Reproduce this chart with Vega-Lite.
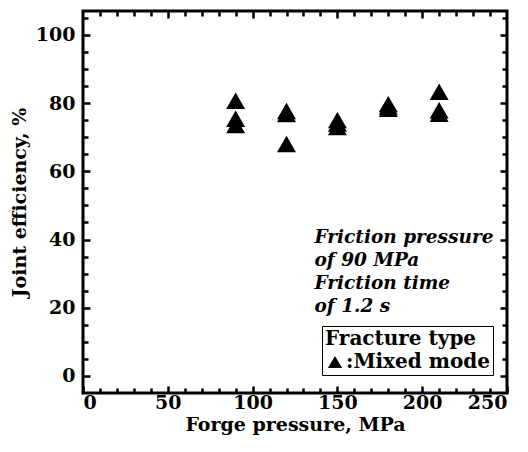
{
  "$schema": "https://vega.github.io/schema/vega-lite/v6.json",
  "width": 424,
  "height": 382,
  "autosize": {"type": "none"},
  "padding": {"left": 83, "top": 11, "right": 21, "bottom": 59},
  "background": "white",
  "config": {
    "view": {"stroke": "black", "strokeWidth": 3},
    "axis": {
      "domain": false, "grid": false,
      "labelFont": "DejaVu Serif", "labelFontWeight": "bold", "labelFontSize": 19, "labelColor": "black",
      "titleFont": "DejaVu Serif", "titleFontWeight": "bold", "titleFontSize": 19, "titleColor": "black",
      "tickColor": "black", "tickWidth": 2.5
    }
  },
  "datasets": {
    "pts": [
      {"forge": 90, "eff": 80.7, "type": "Mixed mode"},
      {"forge": 90, "eff": 75.4, "type": "Mixed mode"},
      {"forge": 90, "eff": 73.6, "type": "Mixed mode"},
      {"forge": 120, "eff": 77.7, "type": "Mixed mode"},
      {"forge": 120, "eff": 76.8, "type": "Mixed mode"},
      {"forge": 120, "eff": 68.0, "type": "Mixed mode"},
      {"forge": 150, "eff": 75.0, "type": "Mixed mode"},
      {"forge": 150, "eff": 74.0, "type": "Mixed mode"},
      {"forge": 150, "eff": 73.0, "type": "Mixed mode"},
      {"forge": 180, "eff": 79.7, "type": "Mixed mode"},
      {"forge": 180, "eff": 79.0, "type": "Mixed mode"},
      {"forge": 180, "eff": 78.3, "type": "Mixed mode"},
      {"forge": 210, "eff": 83.3, "type": "Mixed mode"},
      {"forge": 210, "eff": 77.9, "type": "Mixed mode"},
      {"forge": 210, "eff": 76.9, "type": "Mixed mode"}
    ],
    "note": [
      {"x": 136.5, "y": 39, "t": "Friction pressure\nof 90 MPa\nFriction time\nof 1.2 s"}
    ]
  },
  "layer": [
    {
      "data": {"name": "pts"},
      "mark": {"type": "point", "filled": true, "size": 360, "color": "black", "opacity": 1},
      "encoding": {
        "x": {
          "field": "forge", "type": "quantitative",
          "scale": {"domain": [0, 250], "nice": false, "zero": false},
          "axis": {
            "orient": "bottom", "title": "Forge pressure, MPa",
            "values": [0,10,20,30,40,50,60,70,80,90,100,110,120,130,140,150,160,170,180,190,200,210,220,230,240,250],
            "labelExpr": "datum.value % 50 === 0 ? datum.label : ''",
            "tickSize": {"condition": {"test": "datum.value % 50 === 0", "value": -7}, "value": -5},
            "labelPadding": 7, "titlePadding": 3
          }
        },
        "y": {
          "field": "eff", "type": "quantitative",
          "scale": {"domain": [-5, 107], "nice": false, "zero": false},
          "axis": {
            "orient": "left", "title": "Joint efficiency, %",
            "values": [0,5,10,15,20,25,30,35,40,45,50,55,60,65,70,75,80,85,90,95,100,105],
            "labelExpr": "datum.value % 20 === 0 ? datum.label : ''",
            "tickSize": {"condition": {"test": "datum.value % 20 === 0", "value": -7}, "value": -5},
            "labelPadding": 15, "titlePadding": 6
          }
        },
        "shape": {
          "field": "type", "type": "nominal",
          "scale": {"range": ["triangle-up"]},
          "legend": {
            "title": "Fracture type", "orient": "none", "legendX": 239, "legendY": 315,
            "labelExpr": "':' + datum.label",
            "symbolFillColor": "black", "symbolStrokeColor": "black", "symbolSize": 200, "symbolStrokeWidth": 0,
            "labelFont": "DejaVu Serif", "labelFontSize": 20, "labelFontWeight": "bold", "labelColor": "black",
            "titleFont": "DejaVu Serif", "titleFontSize": 20, "titleFontWeight": "bold", "titleColor": "black",
            "strokeColor": "black", "fillColor": "white", "padding": 3, "labelOffset": 1, "titlePadding": 3,
            "titleAnchor": "start"
          }
        }
      }
    },
    {
      "data": {"name": "note"},
      "mark": {"type": "text", "align": "left", "baseline": "alphabetic", "font": "DejaVu Serif", "fontStyle": "italic", "fontWeight": "bold", "fontSize": 18.5, "lineHeight": 23, "lineBreak": "\n", "color": "black"},
      "encoding": {
        "x": {"field": "x", "type": "quantitative", "axis": null},
        "y": {"field": "y", "type": "quantitative", "axis": null},
        "text": {"field": "t"}
      }
    },
    {
      "data": {"name": "pts"},
      "mark": {"type": "point", "opacity": 0},
      "encoding": {
        "x": {
          "field": "forge", "type": "quantitative",
          "axis": {
            "orient": "top", "title": null, "labels": false,
            "values": [10,20,30,40,50,60,70,80,90,100,110,120,130,140,150,160,170,180,190,200,210,220,230,240],
            "tickSize": {"condition": {"test": "datum.value % 50 === 0", "value": -7}, "value": -5}
          }
        },
        "y": {
          "field": "eff", "type": "quantitative",
          "axis": {
            "orient": "right", "title": null, "labels": false,
            "values": [0,5,10,15,20,25,30,35,40,45,50,55,60,65,70,75,80,85,90,95,100,105],
            "tickSize": {"condition": {"test": "datum.value % 20 === 0", "value": -7}, "value": -5}
          }
        }
      }
    }
  ],
  "resolve": {"axis": {"x": "independent", "y": "independent"}}
}
